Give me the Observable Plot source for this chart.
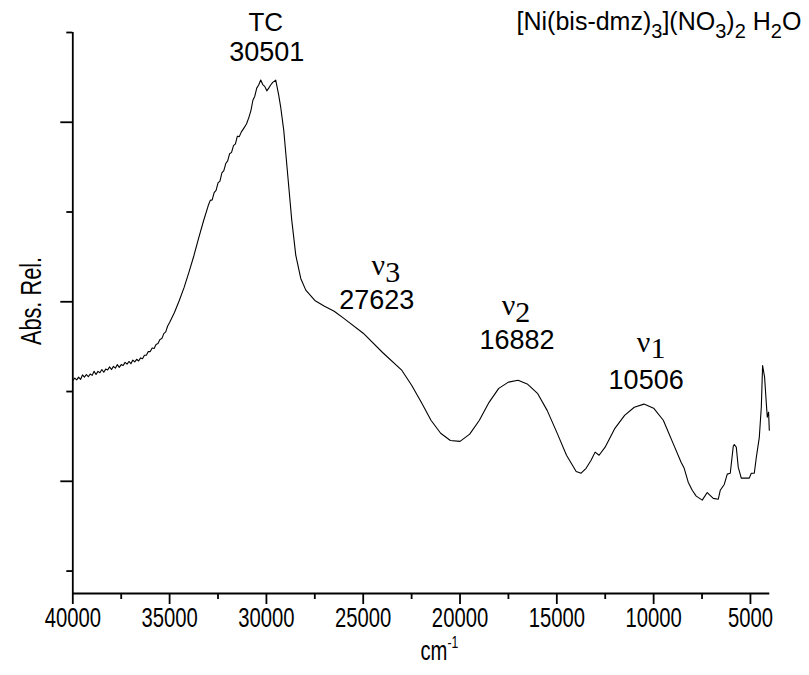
<!DOCTYPE html>
<html><head><meta charset="utf-8">
<script src="https://cdn.jsdelivr.net/npm/d3@7"></script>
<script src="https://cdn.jsdelivr.net/npm/@observablehq/plot@0.6"></script>
<style>body{margin:0;background:#fff} svg{display:block}</style>
</head><body><div id="chart"></div>
<script>
// ---- data ----
const wavenumber = [40000,39900,39800,39700,39600,39500,39400,39300,39200,39100,39000,38900,38800,38700,38600,38500,38400,38300,38200,38100,38000,37900,37800,37700,37600,37500,37400,37300,37200,37100,37000,36900,36800,36700,36600,36500,36400,36300,36200,36100,36000,35900,35800,35700,35600,35500,35400,35300,35200,35100,35000,34750,34500,34250,34000,33750,33500,33250,33000,32900,32800,32700,32600,32500,32400,32300,32200,32100,32000,31900,31800,31700,31600,31500,31400,31300,31163,31030,30905,30800,30698,30600,30500,30400,30293,30190,30087,29980,29880,29780,29673,29518,29363,29260,29104,28898,28691,28484,28226,27967,27500,27000,26500,26000,25000,24000,23000,22500,22000,21500,21000,20500,20000,19500,19000,18500,18000,17500,17000,16500,16000,15500,15000,14500,14000,13747,13489,13230,13023,12817,12506,12000,11500,11000,10500,10000,9500,9000,8576,8421,8214,8007,7800,7490,7231,6921,6662,6559,6352,6197,6042,5887,5835,5731,5628,5473,5214,5059,4956,4801,4697,4542,4439,4372,4269,4181,4129,4062,4026];
const absorbance = [0.625,0.630,0.626,0.632,0.627,0.637,0.632,0.638,0.633,0.639,0.636,0.645,0.638,0.645,0.642,0.649,0.643,0.650,0.648,0.655,0.649,0.656,0.652,0.660,0.654,0.660,0.658,0.665,0.661,0.667,0.662,0.670,0.666,0.672,0.668,0.675,0.673,0.681,0.681,0.689,0.689,0.697,0.696,0.705,0.707,0.716,0.718,0.729,0.733,0.746,0.754,0.776,0.803,0.832,0.866,0.902,0.942,0.980,1.015,1.026,1.027,1.043,1.048,1.065,1.069,1.087,1.092,1.108,1.114,1.130,1.133,1.148,1.152,1.169,1.168,1.178,1.187,1.196,1.211,1.226,1.249,1.258,1.276,1.283,1.294,1.284,1.280,1.270,1.276,1.283,1.289,1.294,1.260,1.233,1.182,1.082,0.982,0.904,0.852,0.826,0.803,0.790,0.779,0.763,0.730,0.687,0.647,0.614,0.576,0.536,0.507,0.491,0.489,0.505,0.536,0.576,0.607,0.621,0.625,0.616,0.596,0.558,0.509,0.458,0.422,0.418,0.429,0.447,0.465,0.458,0.476,0.518,0.547,0.565,0.572,0.563,0.536,0.485,0.442,0.429,0.398,0.380,0.367,0.358,0.375,0.362,0.360,0.380,0.393,0.416,0.418,0.478,0.482,0.476,0.431,0.407,0.407,0.407,0.418,0.418,0.453,0.498,0.565,0.658,0.632,0.574,0.543,0.554,0.514];

const xMajorTicks = [40000,35000,30000,25000,20000,15000,10000,5000];
const xMinorTicks = [37500,32500,27500,22500,17500,12500,7500];
const yMajorTicks = [0.4,0.8,1.2];
const yMinorTicks = [0.2,0.6,1.0,1.4];

const title = "[Ni(bis-dmz)_{3}](NO_{3})_{2} H_{2}O";
const xLabel = "cm^{-1}";
const yLabel = "Abs. Rel.";
const bandNames = ["TC","ν_{3}","ν_{2}","ν_{1}"];
const bandValues = ["30501","27623","16882","10506"];

// ---- layout (data coordinates of annotation anchors) ----
const nameAnchors = [[30036,1.423],[23830,0.881],[17108,0.792],[10128,0.710]];
const valueAnchors = [[29984,1.356],[24296,0.803],[17056,0.714],[10387,0.625]];
const titleAnchor = [2371, 1.423];

const spectrum = wavenumber.map((w,i)=>({w, a: absorbance[i]}));
const names = bandNames.map((t,i)=>({t, w:nameAnchors[i][0], a:nameAnchors[i][1], serif: i>0}));
const values = bandValues.map((t,i)=>({t, w:valueAnchors[i][0], a:valueAnchors[i][1]}));

const SANS = "Arial, 'Liberation Sans', sans-serif";
const AXISFONT = "'Liberation Sans', Arial, sans-serif"; // condensed axis text
const SERIF = "'Times New Roman', 'Liberation Serif', serif";

const plot = Plot.plot({
  width: 809, height: 675,
  marginLeft: 72.3, marginRight: 39.7, marginTop: 32, marginBottom: 82,
  style: {fontFamily: SANS, fontSize: "20px", background: "white", color: "black", overflow: "visible"},
  x: {domain: [40000, 4000], label: null},
  y: {domain: [0.15, 1.4], label: null},
  marks: [
    Plot.axisX(xMajorTicks, {tickSize: 11, tickPadding: 3, strokeWidth: 1.8, fontSize: 27, fontFamily: AXISFONT, tickFormat: d => String(d), label: null}),
    Plot.axisX(xMinorTicks, {tickSize: 6, strokeWidth: 1.8, tickFormat: () => "", label: null}),
    Plot.axisY(yMajorTicks, {tickSize: 12, strokeWidth: 1.8, tickFormat: () => "", label: null}),
    Plot.axisY(yMinorTicks, {tickSize: 6, strokeWidth: 1.8, tickFormat: () => "", label: null}),
    Plot.ruleY([0.15], {strokeWidth: 1.8}),
    Plot.ruleX([40000], {strokeWidth: 1.8}),
    Plot.line(spectrum, {x: "w", y: "a", stroke: "black", strokeWidth: 1.1}),
    Plot.text(names.filter(d=>!d.serif), {x: "w", y: "a", text: "t", fontSize: 26, fontFamily: SANS}),
    Plot.text(names.filter(d=>d.serif), {x: "w", y: "a", text: "t", fontSize: 30, fontFamily: SERIF}),
    Plot.text(values, {x: "w", y: "a", text: "t", fontSize: 27, fontFamily: SANS}),
    Plot.text([title], {x: titleAnchor[0], y: titleAnchor[1], text: d => d, textAnchor: "end", fontSize: 25}),
    Plot.text([xLabel], {frameAnchor: "bottom", dy: 66, dx: 18, text: d => d, textAnchor: "middle", fontSize: 27, fontFamily: AXISFONT}),
    Plot.text([yLabel], {frameAnchor: "left", dx: -41, dy: -12, rotate: -90, text: d => d, textAnchor: "middle", fontSize: 29, fontFamily: AXISFONT})
  ]
});
document.getElementById("chart").appendChild(plot);

// sub/superscripts
function richText(el) {
  const s = el.textContent;
  if (!/[_^]\{/.test(s)) return;
  const cs = getComputedStyle(el);
  const fs = parseFloat(cs.fontSize);
  const serif = /Times|Serif/.test(cs.fontFamily) && !/Sans/.test(cs.fontFamily);
  el.textContent = "";
  const parts = s.split(/([_^]\{[^}]*\})/).filter(p => p);
  let shift = 0;
  for (const p of parts) {
    const t = document.createElementNS("http://www.w3.org/2000/svg", "tspan");
    let target = 0, size = fs, txt = p;
    if (p[0] === "_") { target = serif ? 0.22*fs : 0.3*fs; size = serif ? fs : 0.8*fs; txt = p.slice(2,-1); }
    else if (p[0] === "^") { target = -0.42*fs; size = 0.6*fs; txt = p.slice(2,-1); }
    t.setAttribute("dy", target - shift); shift = target;
    t.setAttribute("font-size", size);
    t.textContent = txt;
    el.appendChild(t);
  }
}
d3.select(plot).selectAll("text").each(function(){ richText(this); });

// condensed axis lettering
d3.select(plot).selectAll("g").filter(function(){ return this.getAttribute("font-family") === AXISFONT; })
  .selectAll("text").each(function(){
    const x = this.getAttribute("x");
    let tr = this.getAttribute("transform") || "";
    if (x && !/em$/.test(x)) { tr = `translate(${x},0) ` + tr; this.removeAttribute("x"); }
    this.setAttribute("transform", (tr + " scale(0.75,1)").trim());
  });
</script></body></html>
